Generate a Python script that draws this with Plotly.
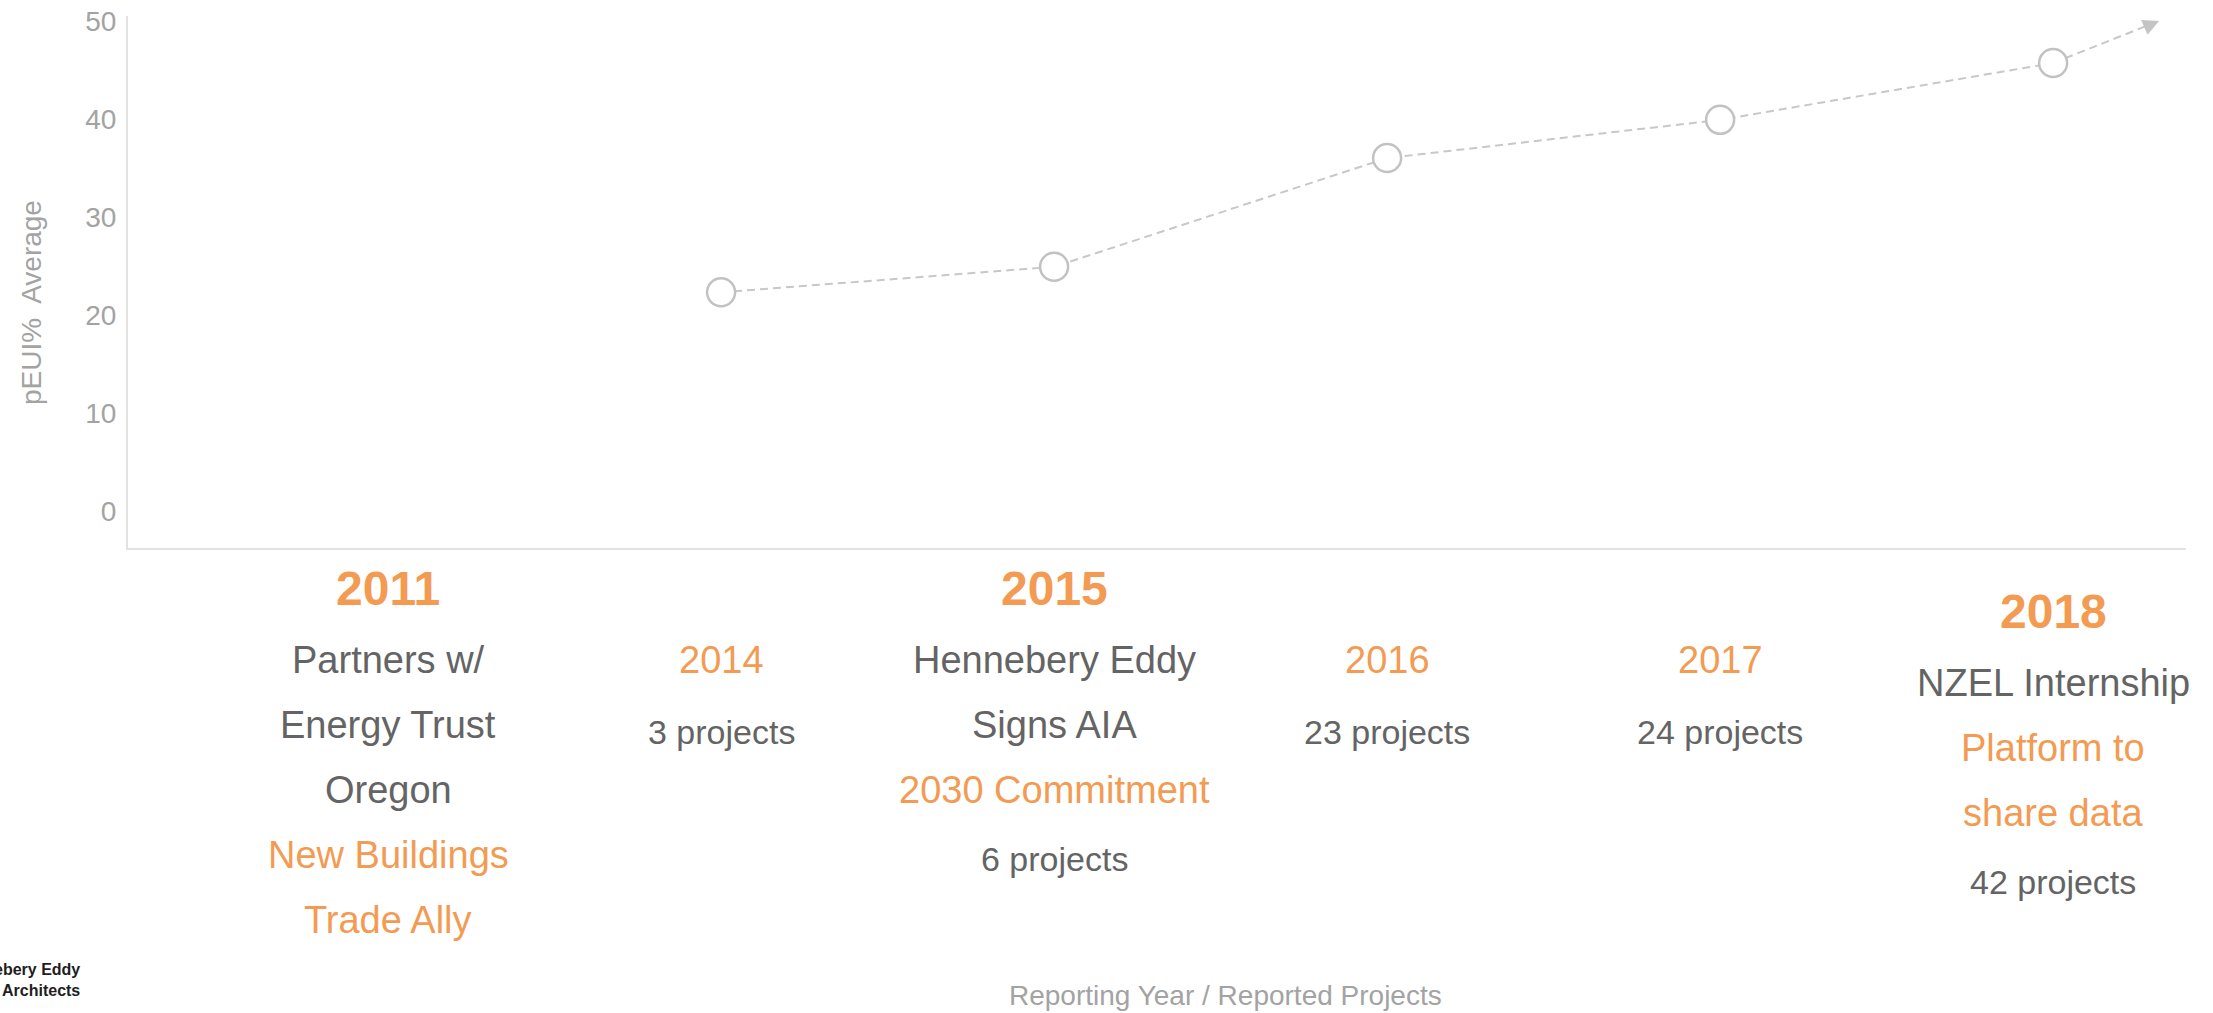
import plotly.graph_objects as go

# ---------------- data ----------------
categories = ["2011", "2014", "2015", "2016", "2017", "2018"]
milestone = [True, False, True, False, False, True]
event_grey = [["Partners w/", "Energy Trust", "Oregon"], [], ["Hennebery Eddy", "Signs AIA"], [], [], ["NZEL Internship"]]
event_orange = [["New Buildings", "Trade Ally"], [], ["2030 Commitment"], [], [], ["Platform to", "share data"]]
project_counts = [None, 3, 6, 23, 24, 42]
peui_avg = [None, 22.3, 24.9, 36.0, 39.9, 45.7]
trend_target = 50.0
y_ticks = [0, 10, 20, 30, 40, 50]
y_title = "pEUI%  Average"
x_title = "Reporting Year / Reported Projects"
logo_lines = ["Hennebery Eddy", "Architects"]

# ---------------- style ----------------
ORANGE = "#F39B53"
GREY_TEXT = "#646464"
AXIS_TEXT = "#a3a3a3"
LINE_GREY = "#c8c8c8"
AXIS_LINE = "#e2e2e2"
DASH = "8px,5px"
FONT = "Liberation Sans Narrow, Arial Narrow, Liberation Sans, Arial, sans-serif"
W, H = 2213, 1013
ML, MR, MT, MB = 128, 27, 16, 465
label_shift = [0, 0, 0, 0, 0, 23]   # extra downward shift of column labels (px)
TOP = 40

xpos = list(range(len(categories)))
pts = [(x, v) for x, v in zip(xpos, peui_avg) if v is not None]
px = [p[0] for p in pts]
py = [p[1] for p in pts]
ext_dx = 0.318

fig = go.Figure()

# trend extension (dashed) toward arrow
fig.add_trace(go.Scatter(
    x=[px[-1], px[-1] + ext_dx], y=[py[-1], trend_target],
    mode="lines", line=dict(color=LINE_GREY, width=2, dash=DASH),
    hoverinfo="skip", showlegend=False))

fig.add_trace(go.Scatter(
    x=px, y=py, mode="lines+markers",
    line=dict(color=LINE_GREY, width=2, dash=DASH),
    marker=dict(size=28, color="white", line=dict(color="#c2c2c2", width=2.5)),
    hoverinfo="skip", showlegend=False))

annotations = []
# arrow head
annotations.append(dict(
    x=px[-1] + ext_dx, y=trend_target, xref="x", yref="y",
    ax=-16, ay=7, showarrow=True, arrowhead=2, arrowsize=1.6, arrowwidth=2,
    arrowcolor="#c4c4c4", text=""))

# column labels
for i, cat in enumerate(categories):
    cur = TOP + label_shift[i]
    items = []
    if milestone[i]:
        items.append((f"<b>{cat}</b>", 48, ORANGE, cur))
        cur += 72
        last = None
        for t in event_grey[i]:
            items.append((t, 38, GREY_TEXT, cur)); last = cur; cur += 65
        for t in event_orange[i]:
            items.append((t, 38, ORANGE, cur)); last = cur; cur += 65
        if project_counts[i] is not None:
            items.append((f"{project_counts[i]} projects", 34, GREY_TEXT, last + 69))
    else:
        cur += 72
        items.append((cat, 38, ORANGE, cur))
        if project_counts[i] is not None:
            items.append((f"{project_counts[i]} projects", 34, GREY_TEXT, cur + 72))
    for text, size, color, off in items:
        annotations.append(dict(
            x=xpos[i], y=0, xref="x", yref="paper", yshift=-off,
            xanchor="center", yanchor="middle", showarrow=False,
            text=text, font=dict(family=FONT, size=size, color=color)))

# axis titles
annotations.append(dict(
    x=0, y=0.5, xref="paper", yref="paper", xshift=-97, yshift=-21,
    xanchor="center", yanchor="middle",
    textangle=-90, showarrow=False, text=y_title,
    font=dict(family=FONT, size=28, color=AXIS_TEXT)))
annotations.append(dict(
    x=0.5, y=0, xref="paper", yref="paper", xshift=1225 - (ML + (W - ML - MR) / 2),
    yshift=-(995 - (H - MB)), xanchor="center", yanchor="middle",
    showarrow=False, text=x_title,
    font=dict(family=FONT, size=28, color=AXIS_TEXT)))
# logo (clipped at left edge, as in the reference)
annotations.append(dict(
    x=0, y=0, xref="paper", yref="paper", xshift=-46, yshift=-(980 - (H - MB)),
    xanchor="right", yanchor="middle", align="right", showarrow=False,
    text="<b>" + "<br>".join(logo_lines) + "</b>",
    font=dict(family=FONT, size=16, color="#1e1e1e")))

fig.update_layout(
    width=W, height=H, margin=dict(l=ML, r=MR, t=MT, b=MB),
    paper_bgcolor="white", plot_bgcolor="white",
    showlegend=False, annotations=annotations,
    font=dict(family=FONT),
    xaxis=dict(range=[-0.781, 5.399], showticklabels=False, showgrid=False,
               zeroline=False, showline=True, linecolor=AXIS_LINE, linewidth=2,
               ticks="", automargin=False),
    yaxis=dict(range=[-3.8, 50.5], tickvals=y_ticks, showgrid=False, zeroline=False,
               showline=True, linecolor=AXIS_LINE, linewidth=2, ticks="",
               ticklabelstandoff=4, automargin=False,
               tickfont=dict(family=FONT, size=28, color=AXIS_TEXT)),
)

fig.write_html("out.html", config={"displayModeBar": False},
               post_script="document.body.style.margin='0';")
